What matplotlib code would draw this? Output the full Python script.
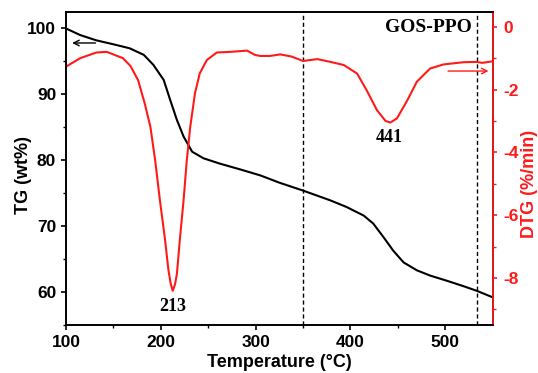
"""TG / DTG curves of GOS-PPO, redrawn from the reference figure."""
import matplotlib
matplotlib.use("Agg")
import matplotlib.pyplot as plt

# TG curve (wt%)
tg_temp = [100, 115, 132, 150, 167, 182, 192, 203, 210, 217, 224, 233, 245, 262, 284,
           305, 325, 350, 379, 396, 414, 424, 435, 445, 456, 470, 484, 502, 519, 533, 550]
tg_wt = [100.0, 99.0, 98.2, 97.6, 97.0, 96.0, 94.5, 92.2, 89.1, 86.1, 83.6, 81.3, 80.3, 79.5, 78.6,
         77.7, 76.6, 75.4, 73.9, 72.9, 71.6, 70.4, 68.3, 66.3, 64.5, 63.3, 62.5, 61.7, 60.9, 60.2, 59.2]

# DTG curve (%/min)
dtg_temp = [100, 115, 132, 143, 160, 168, 176, 183, 189, 194, 199, 204.5, 208, 210.5, 212.6,
            215, 217, 220, 224, 227.4, 231, 236, 241, 248.5, 259, 273, 291, 299.5, 305, 315,
            326, 338, 350, 365, 379, 393, 407, 417, 428, 437, 442, 449, 460, 470, 484, 498,
            519, 533, 539, 550]
dtg_val = [-1.27, -1.0, -0.82, -0.80, -1.0, -1.25, -1.70, -2.44, -3.19, -4.25, -5.52, -6.80, -7.75,
           -8.20, -8.41, -8.20, -7.86, -6.80, -5.52, -4.25, -3.19, -2.12, -1.49, -1.06, -0.82,
           -0.80, -0.76, -0.90, -0.93, -0.93, -0.88, -0.95, -1.09, -1.03, -1.12, -1.22, -1.49,
           -2.02, -2.66, -3.00, -3.05, -2.92, -2.34, -1.75, -1.33, -1.20, -1.13, -1.12, -1.15, -1.10]

peak_temps = [213, 441]
peak_dtg = [-8.41, -3.05]
peak_labels = ["213", "441"]
dashed_temps = [350, 533]

RED = "#ff1a1a"
plt.rcParams["font.family"] = ["Liberation Sans", "DejaVu Sans"]
plt.rcParams["font.weight"] = "bold"
plt.rcParams["axes.unicode_minus"] = False

fig = plt.figure(figsize=(5.38, 3.73), dpi=100)
ax = fig.add_axes([0.1227, 0.1287, 0.7931, 0.8391])
ax2 = ax.twinx()

ax.plot(tg_temp, tg_wt, color="black", linewidth=1.5)
ax2.plot(dtg_temp, dtg_val, color=RED, linewidth=1.5)

for t in dashed_temps:
    ax.axvline(t, color="black", linestyle=(0, (3, 2)), linewidth=1.0)

ax.set_xlim(100, 550)
ax.set_ylim(55, 102.5)
ax2.set_ylim(-9.5, 0.47)

ax.set_xticks([100, 200, 300, 400, 500])
ax.set_xticks([150, 250, 350, 450], minor=True)
ax.set_yticks([60, 70, 80, 90, 100])
ax.set_yticks([55, 65, 75, 85, 95], minor=True)
ax2.set_yticks([0, -2, -4, -6, -8])
ax2.set_yticks([-1, -3, -5, -7, -9], minor=True)

ax.tick_params(axis="both", which="major", direction="out", length=3.6, width=1.2, labelsize=12.5)
ax.tick_params(axis="both", which="minor", direction="out", length=2.5, width=1.0)
ax2.tick_params(axis="y", which="major", direction="out", length=3.2, width=1.2, labelsize=12.5,
                colors=RED, pad=4.5)
ax2.tick_params(axis="y", which="minor", direction="out", length=2.5, width=1.0, colors=RED)

for sp in list(ax.spines.values()) + list(ax2.spines.values()):
    sp.set_linewidth(1.2)
ax2.spines["right"].set_color(RED)

ax.set_xlabel("Temperature (\u00b0C)", fontsize=13, fontweight="bold", labelpad=3)
ax.set_ylabel("TG (wt%)", fontsize=13, fontweight="bold")
ax.yaxis.set_label_coords(-0.0797, 0.479)
ax2.set_ylabel("DTG (%/min)", fontsize=13, fontweight="bold", color=RED)
ax2.yaxis.set_label_coords(1.066, 0.45)

serif = ["Liberation Serif", "DejaVu Serif"]
for t, d, lab in zip(peak_temps, peak_dtg, peak_labels):
    ax2.text(t, d - 0.22, lab, family=serif, fontsize=13, fontweight="bold",
             ha="center", va="top")
ax.text(0.951, 0.935, "GOS-PPO", transform=ax.transAxes, family=serif, fontsize=14,
        fontweight="bold", ha="right", va="baseline")

# direction arrows pointing to the matching axis
ax.annotate("", xy=(103.5, 97.8), xytext=(134, 97.8),
            arrowprops=dict(arrowstyle="->", color="black", lw=1.0))
ax2.annotate("", xy=(548.5, -1.41), xytext=(500, -1.41),
             arrowprops=dict(arrowstyle="->", color=RED, lw=1.0))

fig.savefig("out.png", dpi=100)
